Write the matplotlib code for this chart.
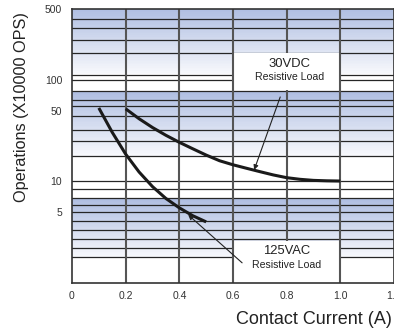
import numpy as np
import matplotlib
matplotlib.use("Agg")
import matplotlib.pyplot as plt
from matplotlib.patches import Rectangle
from matplotlib.colors import to_rgb

plt.rcParams['font.family'] = ['Liberation Sans', 'DejaVu Sans']

# curves
vdc_x = [0.2, 0.25, 0.3, 0.35, 0.4, 0.45, 0.5, 0.55, 0.6, 0.65, 0.7, 0.75,
         0.8, 0.85, 0.9, 0.95, 1.0]
vdc_y = [52, 41.5, 34, 28.5, 24.3, 21.0, 18.2, 16.0, 14.6, 13.5, 12.5, 11.6,
         10.9, 10.5, 10.25, 10.15, 10.1]

vac_x = [0.1, 0.15, 0.2, 0.25, 0.3, 0.35, 0.4, 0.45, 0.5]
vac_y = [53, 30.5, 18.6, 12.4, 8.9, 6.8, 5.5, 4.6, 4.0]

# horizontal rules and shaded bands (value ranges, top -> bottom)
grid_levels = [400, 325, 250, 185, 112, 100, 77, 64, 55, 44, 32, 25, 18,
               10, 8.5, 6.8, 5.9, 5.0, 4.05, 3.3, 2.7, 2.2, 1.8]
bands = [(500, 114), (76, 17.8), (6.7, 1.77)]
vlines = [0.2, 0.4, 0.6, 0.8, 1.0]

xticks = [0, 0.2, 0.4, 0.6, 0.8, 1.0, 1.2]
xtick_labels = ['0', '0.2', '0.4', '0.6', '0.8', '1.0', '1.2']
yticks = [5, 10, 50, 100, 500]
ytick_labels = ['5', '10', '50', '100', '500']

fig = plt.figure(figsize=(3.94, 3.34), dpi=100)
ax = fig.add_axes([0.1827, 0.1527, 0.8173, 0.8204])
ax.set_yscale('log')
ax.set_xlim(0, 1.2)
ax.set_ylim(1, 500)

# gradient bands: dark periwinkle at top fading to white
dark = np.array(to_rgb('#b0bfe2'))
light = np.array(to_rgb('#f7f8fc'))
n = 40
for hi, lo in bands:
    edges = np.logspace(np.log10(hi), np.log10(lo), n + 1)
    for i in range(n):
        t = i / (n - 1)
        c = dark * (1 - t) + light * t
        ax.axhspan(edges[i + 1], edges[i], color=c, lw=0, zorder=0)

for v in grid_levels:
    ax.axhline(v, color='#262626', lw=0.9, zorder=1)
for v in vlines:
    ax.axvline(v, color='#555555', lw=1.5, zorder=1 if v == 0.8 else 3)

# label boxes
ax.add_patch(Rectangle((0.605, 80), 0.39, 184 - 80, facecolor='white',
                       edgecolor='none', zorder=2))
ax.add_patch(Rectangle((0.605, 1.0), 0.39, 2.59 - 1.0, facecolor='white',
                       edgecolor='none', zorder=2))

ax.text(0.81, 145, '30VDC', ha='center', va='center', fontsize=9.4,
        color='#222222', zorder=4)
ax.text(0.81, 106, 'Resistive Load', ha='center', va='center', fontsize=7.6,
        color='#222222', zorder=4)
ax.text(0.80, 2.05, '125VAC', ha='center', va='center', fontsize=9.4,
        color='#222222', zorder=4)
ax.text(0.80, 1.5, 'Resistive Load', ha='center', va='center', fontsize=7.6,
        color='#222222', zorder=4)

ax.plot(vdc_x, vdc_y, color='#1a1a1a', lw=2.2, zorder=5,
        solid_capstyle='butt', solid_joinstyle='round')
ax.plot(vac_x, vac_y, color='#1a1a1a', lw=2.2, zorder=5,
        solid_capstyle='butt', solid_joinstyle='round')

ax.annotate('', xy=(0.679, 13), xytext=(0.776, 68),
            arrowprops=dict(arrowstyle='-|>', lw=0.8, color='#222222',
                            mutation_scale=7, shrinkA=0, shrinkB=0), zorder=6)
ax.annotate('', xy=(0.433, 4.7), xytext=(0.634, 1.58),
            arrowprops=dict(arrowstyle='-|>', lw=0.8, color='#222222',
                            mutation_scale=7, shrinkA=0, shrinkB=0), zorder=6)

ax.set_xticks(xticks)
ax.set_xticklabels(xtick_labels)
ax.set_yticks(yticks)
ax.set_yticklabels(ytick_labels)
ax.yaxis.set_minor_locator(matplotlib.ticker.NullLocator())
ax.tick_params(length=0, labelsize=7.5, labelcolor='#333333')
ax.tick_params(axis='x', pad=6)
ax.tick_params(axis='y', pad=7)

for s in ax.spines.values():
    s.set_color('#333333')
    s.set_linewidth(1.2)
    s.set_zorder(7)

ax.set_ylabel('Operations (X10000 OPS)', fontsize=11.7, color='#222222')
ax.yaxis.set_label_coords(-0.133, 0.642)
ax.set_xlabel('Contact Current (A)', fontsize=13, color='#222222')
ax.xaxis.set_label_coords(0.752, -0.102)

fig.savefig('out.png', dpi=100)
